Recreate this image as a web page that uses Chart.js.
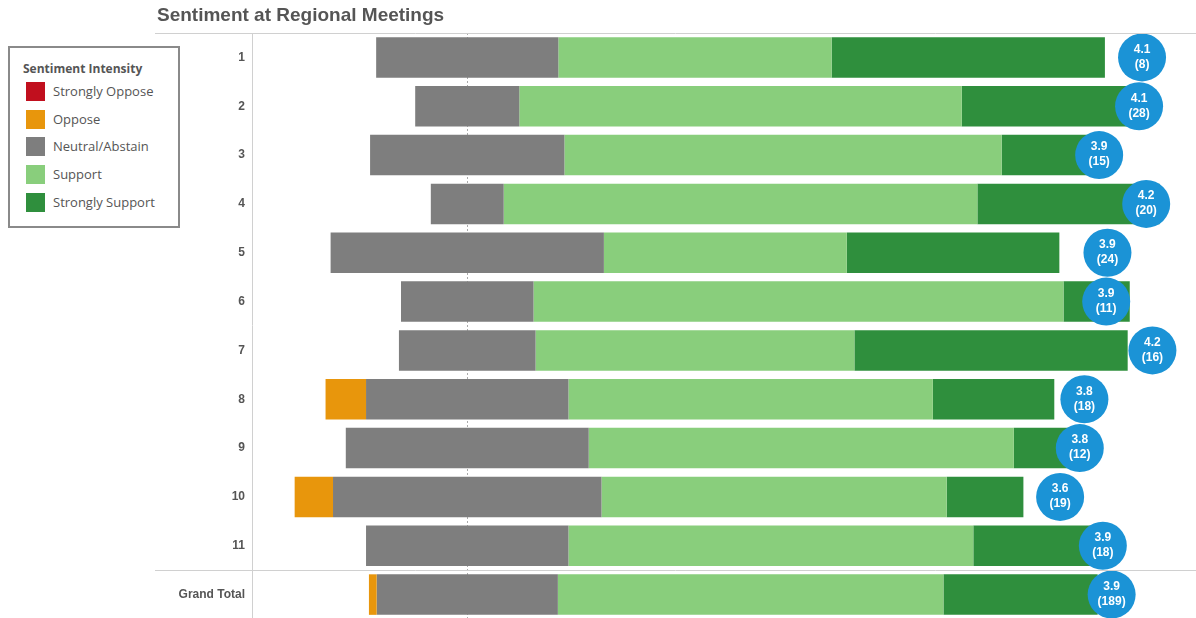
<!DOCTYPE html>
<html>
<head>
<meta charset="utf-8">
<script src="https://cdn.jsdelivr.net/npm/chart.js@4/dist/chart.umd.min.js"></script>
<style>
  html, body { margin: 0; padding: 0; background: #fff; overflow: hidden; }
  #wrap { position: relative; width: 1196px; height: 618px; }
  #chart { position: absolute; left: 0; top: 0; }
  #title {
    position: absolute; left: 157px; top: 4px;
    font: bold 19px 'Liberation Sans', Arial, sans-serif; color: #555;
  }
  #legend {
    position: absolute; left: 8px; top: 46px; width: 168px; height: 178px;
    border: 2px solid #8a8a8a; background: #fff;
    font: 13px 'Open Sans', sans-serif; color: #555;
  }
  #legend .hd { position: absolute; left: 13px; top: 12px; font-weight: bold; font-size: 12px; }
  #legend .it { position: absolute; left: 16px; height: 19px; line-height: 19px; white-space: nowrap; }
  #legend .sw { display: inline-block; width: 19px; height: 19px; vertical-align: top; margin-right: 8px; }
</style>
</head>
<body>
<div id="wrap">
  <canvas id="chart" width="1196" height="620"></canvas>
  <div id="title">Sentiment at Regional Meetings</div>
  <div id="legend"><div class="hd">Sentiment Intensity</div></div>
</div>
<script>
// rows and response counts per sentiment level (1 = strongly oppose ... 5 = strongly support)
const rowLabels = ['1', '2', '3', '4', '5', '6', '7', '8', '9', '10', '11', 'Grand Total'];
const stronglyOppose = [0, 0, 0, 0, 0, 0, 0, 0, 0, 0, 0, 0];
const oppose = [0, 0, 0, 0, 0, 0, 0, 1, 0, 1, 0, 2];
const neutral = [2, 4, 4, 2, 9, 2, 3, 5, 4, 7, 5, 47];
const support = [3, 17, 9, 13, 8, 8, 7, 9, 7, 9, 10, 100];
const stronglySupport = [3, 7, 2, 5, 7, 1, 6, 3, 1, 2, 3, 40];

const seriesNames = ['Strongly Oppose', 'Oppose', 'Neutral/Abstain', 'Support', 'Strongly Support'];
const COLORS = ['#c10f1e', '#e8960c', '#7e7e7e', '#89ce7c', '#2f8f3d'];
const BUBBLE = '#1b93d6';
const LINE = '#d0d0d0';

// bubbles may overhang the plot edge; don't let them shrink the chart area
Chart.BubbleController.prototype.getMaxOverflow = function () { return 0; };

// legend
const legendEl = document.getElementById('legend');
seriesNames.forEach((name, i) => {
  const d = document.createElement('div');
  d.className = 'it';
  d.style.top = (34 + i * 27.7) + 'px';
  d.innerHTML = `<span class="sw" style="background:${COLORS[i]}"></span>${name}`;
  legendEl.appendChild(d);
});

const totals = rowLabels.map((_, i) =>
  stronglyOppose[i] + oppose[i] + neutral[i] + support[i] + stronglySupport[i]);
const pct = arr => arr.map((v, i) => v / totals[i] * 100);
const pSO = pct(stronglyOppose), pO = pct(oppose), pN = pct(neutral), pS = pct(support), pSS = pct(stronglySupport);
const means = rowLabels.map((_, i) =>
  (1 * stronglyOppose[i] + 2 * oppose[i] + 3 * neutral[i] + 4 * support[i] + 5 * stronglySupport[i]) / totals[i]);

// diverging segments, neutral centred on zero
const segN = pN.map(n => [-n / 2, n / 2]);
const segO = pN.map((n, i) => [-n / 2 - pO[i], -n / 2]);
const segSO = pN.map((n, i) => [-n / 2 - pO[i] - pSO[i], -n / 2 - pO[i]]);
const segS = pN.map((n, i) => [n / 2, n / 2 + pS[i]]);
const segSS = pN.map((n, i) => [n / 2 + pS[i], n / 2 + pS[i] + pSS[i]]);

const barDs = (label, data, color) => ({
  type: 'bar', label, data, backgroundColor: color, borderWidth: 0,
  grouped: false, barPercentage: 0.83, categoryPercentage: 1, order: 1,
  xAxisID: 'x', yAxisID: 'y'
});

const decor = {
  id: 'decor',
  beforeDatasetsDraw(chart) {
    const { ctx, chartArea, scales } = chart;
    const x0 = Math.round(scales.x.getPixelForValue(0)) + 0.5;
    ctx.save();
    ctx.strokeStyle = '#aaa';
    ctx.lineWidth = 1;
    ctx.setLineDash([2, 2]);
    ctx.beginPath();
    ctx.moveTo(x0, chartArea.top);
    ctx.lineTo(x0, 618);
    ctx.stroke();
    ctx.restore();
  },
  afterDatasetsDraw(chart) {
    const { ctx, chartArea, scales } = chart;
    ctx.save();
    ctx.strokeStyle = LINE;
    ctx.lineWidth = 1;
    const sep = Math.round((scales.y.getPixelForValue(10) + scales.y.getPixelForValue(11)) / 2) + 0.5;
    ctx.beginPath();
    ctx.moveTo(155, chartArea.top + 0.5); ctx.lineTo(1196, chartArea.top + 0.5);
    ctx.moveTo(155, sep); ctx.lineTo(1196, sep);
    ctx.moveTo(chartArea.left - 0.5, chartArea.top); ctx.lineTo(chartArea.left - 0.5, 618);
    ctx.stroke();

    // bubble labels
    const meta = chart.getDatasetMeta(0);
    ctx.fillStyle = '#fff';
    ctx.font = "bold 12px 'Liberation Sans', Arial, sans-serif";
    ctx.textAlign = 'center';
    ctx.textBaseline = 'middle';
    meta.data.forEach((pt, i) => {
      ctx.fillText(means[i].toFixed(1), pt.x, pt.y - 8);
      ctx.fillText(`(${totals[i]})`, pt.x, pt.y + 7);
    });
    ctx.restore();
  }
};

new Chart(document.getElementById('chart').getContext('2d'), {
  data: {
    labels: rowLabels,
    datasets: [
      {
        type: 'bubble', label: 'Average',
        data: means.map((m, i) => ({ x: m, y: rowLabels[i], r: 24 })),
        backgroundColor: BUBBLE, borderWidth: 0, order: 0, clip: false,
        xAxisID: 'x2', yAxisID: 'y'
      },
      barDs(seriesNames[0], segSO, COLORS[0]),
      barDs(seriesNames[1], segO, COLORS[1]),
      barDs(seriesNames[2], segN, COLORS[2]),
      barDs(seriesNames[3], segS, COLORS[3]),
      barDs(seriesNames[4], segSS, COLORS[4])
    ]
  },
  options: {
    indexAxis: 'y',
    responsive: false,
    animation: false,
    events: [],
    layout: { padding: { top: 33, bottom: 1, left: 0, right: 0 } },
    plugins: { legend: { display: false }, tooltip: { enabled: false } },
    scales: {
      x: { type: 'linear', min: -29.4, max: 100, display: false },
      x2: { type: 'linear', min: -1.23, max: 4.45, display: false },
      y: {
        type: 'category',
        grid: { display: false, drawTicks: false },
        border: { display: false },
        ticks: {
          color: '#555', padding: 8,
          font: { family: "'Liberation Sans', Arial, sans-serif", size: 12, weight: 'bold' }
        },
        afterFit: scale => {
          scale.width = 253;
          scale.paddingTop = 0;
          scale.paddingBottom = 0;
        }
      }
    }
  },
  plugins: [decor]
});
</script>
</body>
</html>
